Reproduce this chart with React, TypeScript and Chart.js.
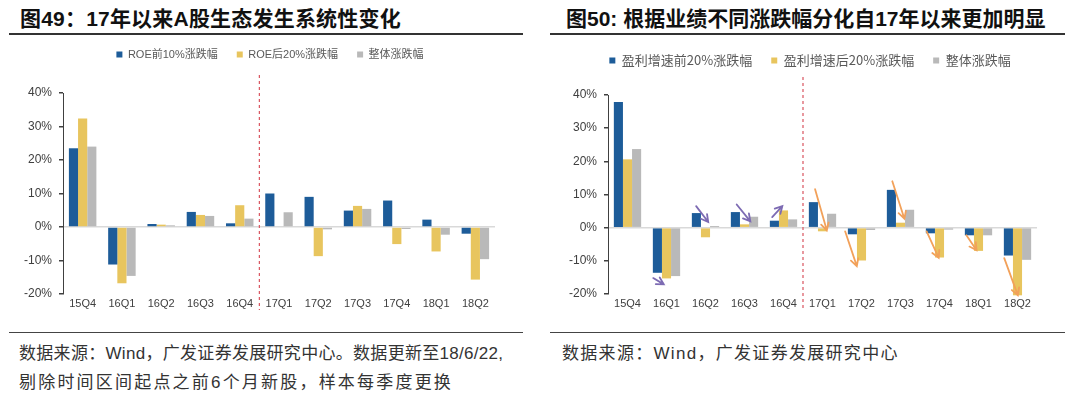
import React, { useEffect, useRef } from 'react';
import { Chart, registerables } from 'chart.js';
Chart.register(...registerables);

const categories = ['15Q4', '16Q1', '16Q2', '16Q3', '16Q4', '17Q1', '17Q2', '17Q3', '17Q4', '18Q1', '18Q2'];

// Figure 49
const roeTop10 = [23.5, -11.2, 0.9, 4.5, 1.1, 10.0, 9.0, 4.9, 7.9, 2.2, -2.0];
const roeBottom20 = [32.4, -16.8, 0.7, 3.6, 6.5, 0.0, -8.7, 6.3, -5.1, -7.3, -15.7];
const overall49 = [24.0, -14.6, 0.5, 3.3, 2.5, 4.4, -0.7, 5.4, -0.6, -2.3, -9.6];

// Figure 50
const growthTop20 = [37.9, -13.6, 4.4, 4.7, 2.1, 7.7, -2.0, 11.4, -1.7, -2.3, -8.4];
const growthBottom20 = [20.6, -15.3, -2.9, 1.0, 5.2, -1.1, -9.9, 1.5, -9.0, -7.0, -20.4];
const overall50 = [23.7, -14.6, 0.5, 3.3, 2.5, 4.2, -0.7, 5.4, -0.6, -2.3, -9.7];

const yTicks = [-20, -10, 0, 10, 20, 30, 40];

// arrows: [category index, start offset (in categories), start value, end offset, end value]
const purpleArrows = [
  [1, -0.34, -15.2, -0.07, -17.1],
  [2, -0.24, 6.5, 0.07, 1.7],
  [3, -0.2, 7.0, 0.15, 1.9],
  [4, -0.29, 3.2, -0.03, 6.5],
];
const orangeArrows = [
  [5, -0.19, 11.6, 0.11, -0.8],
  [6, -0.42, -1.1, -0.12, -11.6],
  [7, -0.21, 14.0, 0.1, 2.7],
  [8, -0.33, -1.1, -0.02, -9.1],
  [9, -0.31, -2.3, -0.05, -6.8],
  [10, -0.34, -9.2, 0.01, -20.4],
];

const BLUE = '#1d5c99';
const YELLOW = '#e8c55e';
const GRAY = '#b9b9b9';

const dividerPlugin = {
  id: 'divider',
  afterDatasetsDraw(chart: any) {
    const x = chart.scales.x;
    const px = (x.getPixelForValue(4) + x.getPixelForValue(5)) / 2;
    const ctx = chart.ctx;
    ctx.save();
    ctx.strokeStyle = '#d9545f';
    ctx.lineWidth = 1.2;
    ctx.setLineDash([3, 3]);
    ctx.beginPath();
    ctx.moveTo(px, chart.chartArea.top - 18);
    ctx.lineTo(px, chart.chartArea.bottom + 16);
    ctx.stroke();
    ctx.restore();
  },
};

function arrowPlugin(list: number[][], color: string) {
  return {
    id: 'arrows' + color,
    afterDatasetsDraw(chart: any) {
      const x = chart.scales.x;
      const y = chart.scales.y;
      const step = x.getPixelForValue(1) - x.getPixelForValue(0);
      const ctx = chart.ctx;
      ctx.save();
      ctx.strokeStyle = color;
      ctx.lineWidth = 1.8;
      ctx.lineCap = 'round';
      list.forEach(([i, f0, v0, f1, v1]) => {
        const x0 = x.getPixelForValue(i) + f0 * step;
        const x1 = x.getPixelForValue(i) + f1 * step;
        const y0 = y.getPixelForValue(v0);
        const y1 = y.getPixelForValue(v1);
        const a = Math.atan2(y1 - y0, x1 - x0);
        const len = 8;
        ctx.beginPath();
        ctx.moveTo(x0, y0);
        ctx.lineTo(x1, y1);
        ctx.moveTo(x1 - len * Math.cos(a - 0.5), y1 - len * Math.sin(a - 0.5));
        ctx.lineTo(x1, y1);
        ctx.lineTo(x1 - len * Math.cos(a + 0.5), y1 - len * Math.sin(a + 0.5));
        ctx.stroke();
      });
      ctx.restore();
    },
  };
}

function legendHeight(h: number) {
  return {
    id: 'legendHeight',
    beforeInit(chart: any) {
      const leg = chart.legend;
      if (!leg) return;
      const fit = leg.fit;
      leg.fit = function () {
        fit.call(this);
        this.height = h;
      };
    },
  };
}

function buildChart(
  canvas: HTMLCanvasElement,
  labels: string[],
  series: { label: string; data: number[]; color: string }[],
  cfg: { legendH: number; legendFont: number; legendFamily: string; yWidth: number; rightPad: number; xH: number; extra: any[] }
) {
  return new Chart(canvas, {
    type: 'bar',
    data: {
      labels,
      datasets: series.map((s) => ({
        label: s.label,
        data: s.data,
        backgroundColor: s.color,
        borderWidth: 0,
        categoryPercentage: 0.7,
        barPercentage: 1.0,
        clip: false as any,
      })),
    },
    options: {
      animation: false,
      responsive: false,
      maintainAspectRatio: false,
      layout: { padding: 0 },
      plugins: {
        tooltip: { enabled: false },
        legend: {
          display: true,
          position: 'top',
          labels: {
            boxWidth: 6,
            boxHeight: 6,
            padding: 19,
            color: '#595959',
            font: { size: cfg.legendFont, family: cfg.legendFamily },
          },
        },
      },
      scales: {
        x: {
          grid: { display: false, drawTicks: false },
          border: { display: false },
          ticks: {
            color: '#404040',
            padding: 3,
            font: { size: 11, family: "'Liberation Sans Narrow', 'Liberation Sans', Arial, sans-serif" },
            maxRotation: 0,
            autoSkip: false,
          },
          afterFit: (s: any) => {
            s.height = cfg.xH;
          },
        },
        y: {
          min: -20,
          max: 40,
          afterBuildTicks: (s: any) => {
            s.ticks = yTicks.map((v) => ({ value: v }));
          },
          grid: {
            drawTicks: true,
            tickLength: 4,
            tickColor: '#404040',
            lineWidth: 1.5,
            color: (c: any) => (c.tick && c.tick.value === 0 ? '#d9d9d9' : 'rgba(0,0,0,0)'),
          },
          border: { display: true, color: '#404040', width: 1 },
          ticks: {
            color: '#404040',
            padding: 7,
            font: { size: 12, family: "'Liberation Sans', Arial, sans-serif" },
            callback: (v: any) => v + '%',
          },
          afterFit: (s: any) => {
            s.width = cfg.yWidth;
          },
        },
        yR: {
          type: 'linear',
          position: 'right',
          display: true,
          grid: { display: false },
          border: { display: false },
          ticks: { display: false },
          afterFit: (s: any) => {
            s.width = cfg.rightPad;
          },
        },
      } as any,
    },
    plugins: [legendHeight(cfg.legendH), dividerPlugin, ...cfg.extra],
  } as any);
}

export default function App() {
  const leftRef = useRef<HTMLCanvasElement>(null);
  const rightRef = useRef<HTMLCanvasElement>(null);

  useEffect(() => {
    const c1 = buildChart(
      leftRef.current!,
      categories,
      [
        { label: 'ROE前10%涨跌幅', data: roeTop10, color: BLUE },
        { label: 'ROE后20%涨跌幅', data: roeBottom20, color: YELLOW },
        { label: '整体涨跌幅', data: overall49, color: GRAY },
      ],
      {
        legendH: 63,
        legendFont: 11,
        legendFamily: "'Liberation Sans', 'Noto Sans CJK SC', sans-serif",
        yWidth: 63,
        rightPad: 45,
        xH: 26,
        extra: [],
      }
    );
    const c2 = buildChart(
      rightRef.current!,
      categories,
      [
        { label: '盈利增速前20%涨跌幅', data: growthTop20, color: BLUE },
        { label: '盈利增速后20%涨跌幅', data: growthBottom20, color: YELLOW },
        { label: '整体涨跌幅', data: overall50, color: GRAY },
      ],
      {
        legendH: 60,
        legendFont: 13,
        legendFamily: "'Noto Sans CJK SC', sans-serif",
        yWidth: 68,
        rightPad: 43,
        xH: 26,
        extra: [arrowPlugin(purpleArrows, '#7d6bb3'), arrowPlugin(orangeArrows, '#f2a15a')],
      }
    );
    return () => {
      c1.destroy();
      c2.destroy();
    };
  }, []);

  const abs = (s: React.CSSProperties): React.CSSProperties => ({ position: 'absolute', ...s });
  const cjk = "'Liberation Sans', 'Noto Sans CJK SC', sans-serif";

  return (
    <div
      style={{
        position: 'absolute',
        left: 0,
        top: 0,
        width: 1080,
        height: 397,
        background: '#fff',
        overflow: 'hidden',
        fontFamily: cjk,
      }}
    >
      <div style={abs({ left: 20, top: 8, fontSize: 21, lineHeight: '22px', fontWeight: 'bold', letterSpacing: 0.2, whiteSpace: 'nowrap', color: '#111' })}>
        图49：17年以来A股生态发生系统性变化
      </div>
      <div style={abs({ left: 566, top: 8, fontSize: 21, lineHeight: '22px', fontWeight: 'bold', whiteSpace: 'nowrap', color: '#111' })}>
        图50: 根据业绩不同涨跌幅分化自17年以来更加明显
      </div>
      <div style={abs({ left: 9, top: 33, width: 514, height: 1.5, background: '#333' })} />
      <div style={abs({ left: 550, top: 33, width: 515, height: 1.5, background: '#333' })} />

      <canvas ref={leftRef} width={540} height={290} style={abs({ left: 0, top: 30, width: 540, height: 290 })} />
      <canvas ref={rightRef} width={540} height={285} style={abs({ left: 540, top: 35, width: 540, height: 285 })} />

      <div style={abs({ left: 9, top: 332, width: 514, height: 1, background: '#444' })} />
      <div style={abs({ left: 550, top: 332, width: 515, height: 1, background: '#444' })} />

      <div style={abs({ left: 19, top: 339, fontSize: 17, lineHeight: '29px', color: '#333', whiteSpace: 'nowrap' })}>
        <div style={{ letterSpacing: 0.3 }}>数据来源：Wind，广发证券发展研究中心。数据更新至18/6/22,</div>
        <div style={{ letterSpacing: 2.2 }}>剔除时间区间起点之前6个月新股，样本每季度更换</div>
      </div>
      <div style={abs({ left: 562, top: 339, fontSize: 17, lineHeight: '29px', color: '#333', whiteSpace: 'nowrap', letterSpacing: 1.3 })}>
        数据来源：Wind，广发证券发展研究中心
      </div>
    </div>
  );
}
